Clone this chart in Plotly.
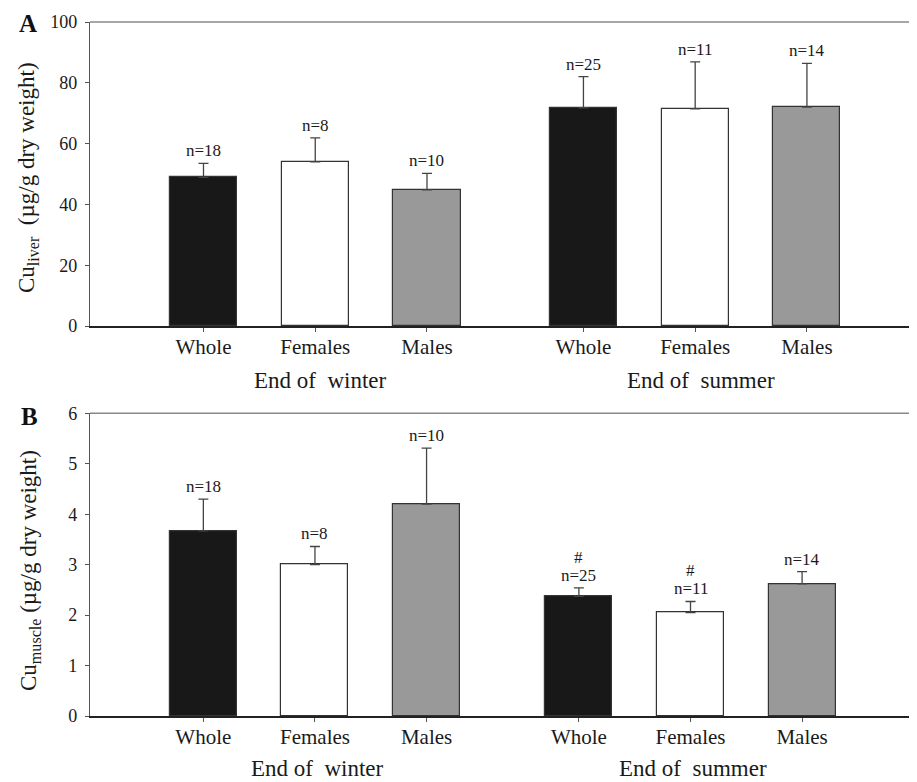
import plotly.graph_objects as go

# ---- data ----
groups = ["Whole", "Females", "Males"]
seasons = ["End of  winter", "End of  summer"]

liver_mean = [48.9, 54.0, 44.8, 71.8, 71.4, 72.0]
liver_err = [4.6, 7.9, 5.4, 10.2, 15.5, 14.4]
liver_n = [18, 8, 10, 25, 11, 14]

muscle_mean = [3.67, 3.00, 4.20, 2.37, 2.05, 2.62]
muscle_err = [0.63, 0.36, 1.11, 0.17, 0.22, 0.24]
muscle_n = [18, 8, 10, 25, 11, 14]
muscle_mark = ["", "", "", "#", "#", ""]

liver_yticks = [0, 20, 40, 60, 80, 100]
muscle_yticks = [0, 1, 2, 3, 4, 5, 6]

# ---- style ----
FONT = "Liberation Serif"
bar_colors = ["#181818", "#ffffff", "#999999"]
OFF = 8                      # page body margin of the html page
W, H = 917 - OFF, 782 - OFF


def fx(px):                  # window pixel -> paper x
    return (px - OFF) / W


def fy(py):                  # window pixel -> paper y
    return 1 - (py - OFF) / H


def positions(gap):
    pos = []
    for s in range(len(seasons)):
        for g in range(len(groups)):
            pos.append(1 + g + s * (len(groups) + gap))
    return pos


posA = positions(0.40)
posB = positions(0.365)

fig = go.Figure()

for pos, mean, err, xa, ya in [
    (posA, liver_mean, liver_err, "x", "y"),
    (posB, muscle_mean, muscle_err, "x2", "y2"),
]:
    fig.add_trace(go.Bar(
        x=pos, y=mean, width=0.6,
        marker=dict(color=[bar_colors[i % 3] for i in range(len(mean))],
                    line=dict(color="#333333", width=1.2)),
        error_y=dict(type="data", array=err, arrayminus=[0] * len(err),
                     symmetric=False, color="#444444", thickness=1.3, width=5),
        xaxis=xa, yaxis=ya, showlegend=False, hoverinfo="skip",
    ))

ticktext = groups * len(seasons)
xtickfont = dict(size=21, family=FONT, color="#1a1a1a")
ytickfont = dict(size=18, family=FONT, color="#1a1a1a")

fig.update_layout(
    width=W, height=H,
    margin=dict(l=0, r=0, t=0, b=0),
    paper_bgcolor="white", plot_bgcolor="white",
    font=dict(family=FONT, color="#1a1a1a"),
    bargap=0,
    xaxis=dict(domain=[fx(90), 1], range=[-0.0157, 7.385], anchor="y",
               tickvals=posA, ticktext=ticktext, ticks="outside", ticklen=4,
               tickcolor="#555555", tickfont=xtickfont, ticklabelstandoff=-3,
               showline=True, linecolor="#222222", linewidth=1.5,
               showgrid=False, zeroline=False, automargin=False),
    yaxis=dict(domain=[fy(326), fy(22)], range=[0, 100], anchor="x",
               tickvals=liver_yticks, ticks="outside", ticklen=4,
               tickcolor="#555555", tickfont=ytickfont, ticklabelstandoff=4,
               showline=True, linecolor="#555555", linewidth=1.2,
               showgrid=False, zeroline=False, automargin=False),
    xaxis2=dict(domain=[fx(90), fx(913.7)], range=[-0.0157, 7.365], anchor="y2",
                tickvals=posB, ticktext=ticktext, ticks="outside", ticklen=4,
                tickcolor="#555555", tickfont=xtickfont, ticklabelstandoff=-3,
                showline=True, linecolor="#222222", linewidth=1.5,
                showgrid=False, zeroline=False, automargin=False),
    yaxis2=dict(domain=[fy(716), fy(413.3)], range=[0, 6], anchor="x2",
                tickvals=muscle_yticks, ticks="outside", ticklen=4,
                tickcolor="#555555", tickfont=ytickfont, ticklabelstandoff=4,
                showline=True, linecolor="#555555", linewidth=1.2,
                showgrid=False, zeroline=False, automargin=False),
)

# frame lines
fig.add_shape(type="line", xref="x domain", yref="y domain", x0=0, x1=1, y0=1, y1=1,
              line=dict(color="#888888", width=1.5))
fig.add_shape(type="line", xref="x2 domain", yref="y2 domain", x0=0, x1=1, y0=1, y1=1,
              line=dict(color="#888888", width=1.5))
fig.add_shape(type="line", xref="x2 domain", yref="y2 domain", x0=1, x1=1, y0=0, y1=1,
              line=dict(color="#333333", width=1.5))

ann = []
nfont = dict(size=17, family=FONT, color="#1a1a1a")
# n labels
for i in range(len(liver_mean)):
    ann.append(dict(x=posA[i], y=liver_mean[i] + liver_err[i], xref="x", yref="y",
                    text=f"n={liver_n[i]}", showarrow=False, yanchor="bottom", yshift=1,
                    font=nfont))
for i in range(len(muscle_mean)):
    ann.append(dict(x=posB[i], y=muscle_mean[i] + muscle_err[i], xref="x2", yref="y2",
                    text=f"n={muscle_n[i]}", showarrow=False, yanchor="bottom", yshift=1,
                    font=nfont))
    if muscle_mark[i]:
        ann.append(dict(x=posB[i], y=muscle_mean[i] + muscle_err[i], xref="x2", yref="y2",
                        text=muscle_mark[i], showarrow=False, yanchor="bottom", yshift=19,
                        font=nfont))
# season labels
sfont = dict(size=23, family=FONT, color="#1a1a1a")
for s in range(len(seasons)):
    ann.append(dict(x=posA[3 * s + 1] + 0.05, y=fy(380), xref="x", yref="paper",
                    text=seasons[s], showarrow=False, yanchor="middle", font=sfont))
    ann.append(dict(x=posB[3 * s + 1] + 0.02, y=fy(768), xref="x2", yref="paper",
                    text=seasons[s], showarrow=False, yanchor="middle", font=sfont))
# y titles
ann.append(dict(x=fx(28), y=fy(178), xref="paper", yref="paper", textangle=-90,
                text="Cu<sub>liver</sub>  (µg/g dry weight)", showarrow=False,
                xanchor="center", yanchor="middle", font=sfont))
ann.append(dict(x=fx(30), y=fy(571), xref="paper", yref="paper", textangle=-90,
                text="Cu<sub>muscle</sub> (µg/g dry weight)", showarrow=False,
                xanchor="center", yanchor="middle", font=sfont))
# panel letters
lfont = dict(size=25, family=FONT, color="#111")
ann.append(dict(x=fx(28), y=fy(23), xref="paper", yref="paper", text="<b>A</b>",
                showarrow=False, xanchor="center", yanchor="middle", font=lfont))
ann.append(dict(x=fx(29), y=fy(416), xref="paper", yref="paper", text="<b>B</b>",
                showarrow=False, xanchor="center", yanchor="middle", font=lfont))

fig.update_layout(annotations=ann)
fig.write_html("out.html")
